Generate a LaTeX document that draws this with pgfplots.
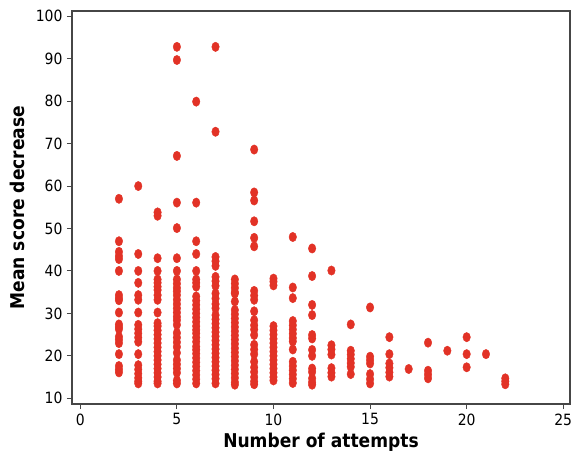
\documentclass[border=0pt]{standalone}
\usepackage{pgfplots}
\pgfplotsset{compat=1.18}
\usepackage{pgfplotstable}
\usepackage{fontspec}
\setmainfont{DejaVu Sans Condensed}
\definecolor{dotred}{RGB}{226,50,38}
\definecolor{framegray}{RGB}{70,70,70}
\pgfplotstableread{
x y
2 57
2 47
2 44.5
2 43.5
2 42.8
2 40
2 34.3
2 33.6
2 33.1
2 30.2
2 27.4
2 26.8
2 26.3
2 24.5
2 23.8
2 23.0
2 20.4
2 17.6
2 16.8
2 16.1
3 60
3 44
3 40
3 37.2
3 34.3
3 33.2
3 30.2
3 27.3
3 26.3
3 25.3
3 24.3
3 23.3
3 20.4
3 17.8
3 16.8
3 15.8
3 14.8
3 14.0
3 13.5
4 53.8
4 53.0
4 43
4 40
4 38
4 37.2
4 36.3
4 35.5
4 34.3
4 33.2
4 30.2
4 27.7
4 27
4 26
4 25
4 24
4 23
4 22
4 21
4 20
4 19
4 18
4 17
4 16
4 15
4 14
4 13.5
5 92.8
5 89.7
5 67.1
5 56.1
5 50.1
5 43
5 40
5 38
5 37
5 36
5 35.2
5 34.3
5 33.2
5 32.2
5 31.2
5 30.2
5 29.2
5 28.4
5 27.3
5 25.4
5 24.3
5 23.2
5 22.1
5 20.7
5 19.0
5 18.0
5 17.0
5 16.0
5 14.2
5 13.5
6 79.9
6 56.1
6 47
6 44
6 40
6 38
6 37.2
6 36.3
6 34
6 33
6 32
6 31
6 30
6 29
6 28
6 27
6 26.1
6 25.3
6 24.3
6 23.3
6 22.2
6 21.4
6 20.5
6 19.5
6 18.5
6 17.5
6 16.5
6 15.5
6 14.5
6 13.5
7 92.8
7 72.8
7 43.3
7 42.3
7 41.2
7 38.6
7 37.6
7 36.5
7 34.7
7 33.5
7 32.2
7 31.2
7 29.6
7 28.6
7 27.6
7 26.6
7 25.6
7 24.6
7 23.6
7 22.6
7 21.6
7 20.6
7 19.6
7 18.6
7 17.6
7 16.6
7 15.6
7 14.6
7 13.5
8 38
8 37
8 36
8 35
8 34.7
8 32.8
8 30.8
8 29.8
8 28.8
8 27.8
8 26.8
8 25.8
8 24.8
8 23.8
8 22.8
8 21.8
8 20.8
8 19.8
8 18.8
8 17.8
8 16.8
8 15.8
8 14.8
8 13.8
8 13.2
9 68.6
9 58.5
9 56.6
9 51.7
9 47.8
9 45.8
9 35.3
9 34.2
9 33.2
9 30.5
9 28.4
9 27.2
9 26.2
9 24.9
9 22.6
9 21.5
9 20.4
9 18.6
9 17.3
9 16.2
9 15.0
9 14.0
9 13.3
10 38.2
10 37.5
10 36.6
10 27
10 26
10 25
10 24
10 23
10 22
10 21
10 20
10 19
10 18
10 17
10 16
10 15
10 14.2
11 48
11 36.1
11 33.6
11 28.2
11 27.2
11 26.2
11 25.2
11 24.2
11 23.4
11 21.5
11 18.6
11 17.6
11 16.6
11 15.6
11 14.6
11 13.6
12 45.3
12 38.8
12 32
12 29.6
12 24.9
12 24.1
12 21.4
12 20
12 17
12 16.2
12 14.7
12 13.8
12 13.2
13 40.1
13 22.5
13 21.5
13 20.3
13 17.1
13 16
13 15.1
14 27.4
14 21.2
14 20.3
14 19.3
14 18.3
14 17.4
14 15.7
15 31.4
15 19.8
15 19
15 18.2
15 15.7
15 14.5
15 13.5
16 24.4
16 20.4
16 18.2
16 17.2
16 16.1
16 15.1
17 16.9
18 23.1
18 16.5
18 15.6
18 14.7
19 21.2
20 24.4
20 20.4
20 17.3
21 20.4
22 14.7
22 14
22 13.3
}\pointsdata
\begin{document}
\begin{tikzpicture}
\begin{axis}[
  scale only axis,
  width=498pt, height=393pt,
  xmin=-0.43, xmax=25.35,
  ymin=8.65, ymax=101.25,
  xtick={0,5,...,25},
  ytick={10,20,...,100},
  tick pos=left,
  tick align=outside,
  major tick length=5pt,
  axis line style={draw=framegray, line width=1.3pt},
  every tick/.style={draw=framegray, line width=1.1pt},
  /pgf/number format/assume math mode=true,
  tick label style={font=\fontsize{15.5}{17}\selectfont, text=black},
  xticklabel style={yshift=-1pt},
  yticklabel style={xshift=-1pt},
  label style={font=\fontsize{19}{21}\selectfont\bfseries, text=black},
  xlabel={Number of attempts},
  ylabel={Mean score decrease},
  xlabel style={yshift=-1pt},
  ylabel style={yshift=4pt},
  clip=false,
]
\addplot[only marks, mark=*, mark size=4.7pt, mark options={draw=dotred, fill=dotred, xscale=0.8}] table[x=x, y=y] {\pointsdata};
\coordinate (sw) at (rel axis cs:0,0);
\coordinate (ne) at (rel axis cs:1,1);
\end{axis}
\pgfresetboundingbox
\path[use as bounding box] ([shift={(-72pt,-51pt)}]sw) rectangle ([shift={(7pt,11pt)}]ne);
\end{tikzpicture}
\end{document}
